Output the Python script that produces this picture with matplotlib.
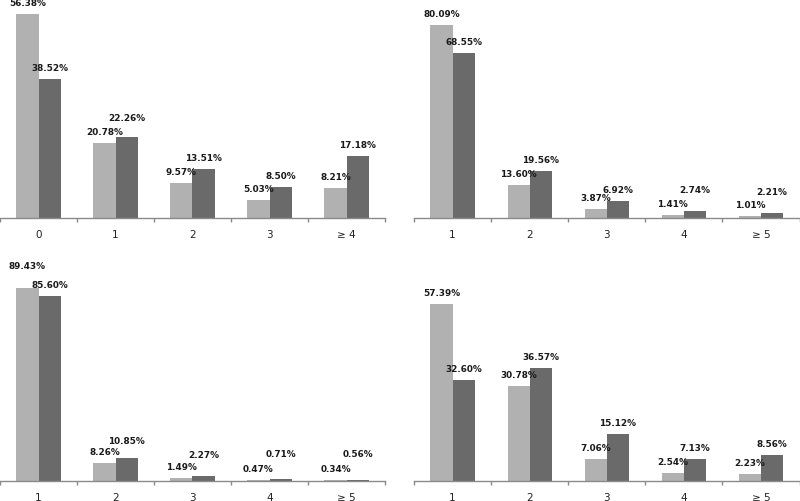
import matplotlib
matplotlib.use("Agg")
import matplotlib.pyplot as plt
import numpy as np

# ---- data ----
cats_a = ["0", "1", "2", "3", "\u2265 4"]
cats_b = ["1", "2", "3", "4", "\u2265 5"]

p1_light = [56.38, 20.78, 9.57, 5.03, 8.21]
p1_dark = [38.52, 22.26, 13.51, 8.50, 17.18]

p2_light = [80.09, 13.60, 3.87, 1.41, 1.01]
p2_dark = [68.55, 19.56, 6.92, 2.74, 2.21]

p3_light = [89.43, 8.26, 1.49, 0.47, 0.34]
p3_dark = [85.60, 10.85, 2.27, 0.71, 0.56]

p4_light = [57.39, 30.78, 7.06, 2.54, 2.23]
p4_dark = [32.60, 36.57, 15.12, 7.13, 8.56]

# ---- layout / style ----
W, H = 800, 502
LIGHT = "#b1b1b1"
DARK = "#6a6a6a"
AXC = "#8a8a8a"

# axes rectangles in pixels: (left, top, right, bottom)
rects = [(0, 2, 385, 219), (414, 2, 799.5, 219),
         (0, 266, 385, 482), (414, 266, 799.5, 482)]
ymax = [60, 90, 100, 70]
panels = [(cats_a, p1_light, p1_dark), (cats_b, p2_light, p2_dark),
          (cats_b, p3_light, p3_dark), (cats_b, p4_light, p4_dark)]
# extra upward nudges of labels (pixels), (panel, series, index)
nudge = {(0, 1, 1): 8, (1, 1, 3): 10, (1, 1, 4): 10,
         (2, 0, 0): 11, (2, 1, 1): 6, (2, 1, 2): 10, (2, 1, 3): 14, (2, 1, 4): 15}

fig = plt.figure(figsize=(W / 100, H / 100), dpi=100)
bw = 0.286
px2pt = 72 / 100

for k, ((l, t, r, b), ym, (cats, lv, dv)) in enumerate(zip(rects, ymax, panels)):
    ax = fig.add_axes([l / W, 1 - b / H, (r - l) / W, (b - t) / H])
    x = np.arange(len(cats))
    for s, (vals, col, off) in enumerate([(lv, LIGHT, -bw / 2), (dv, DARK, bw / 2)]):
        ax.bar(x + off, vals, width=bw, color=col, edgecolor="none", zorder=2)
        for i, v in enumerate(vals):
            lift = 11.5 + nudge.get((k, s, i), 0)
            ax.annotate(f"{v:.2f}%", (x[i] + off, v), xytext=(0, lift * px2pt),
                        textcoords="offset points", ha="center", va="center",
                        fontsize=6.4, fontweight="bold", color="#1a1a1a",
                        annotation_clip=False)
    ax.set_xlim(-0.5, len(cats) - 0.5)
    ax.set_ylim(0, ym)
    for sp in ["top", "left", "right"]:
        ax.spines[sp].set_visible(False)
    ax.spines["bottom"].set_color(AXC)
    ax.spines["bottom"].set_linewidth(1.0)
    ax.set_yticks([])
    ax.set_xticks(x)
    ax.set_xticklabels(cats, fontsize=7.5, color="#222222")
    ax.tick_params(axis="x", which="major", length=0, pad=8)
    ax.set_xticks(np.arange(-0.5, len(cats)), minor=True)
    ax.tick_params(axis="x", which="minor", length=3, color=AXC, width=1.0, direction="out")
    ax.patch.set_alpha(0)

fig.savefig("out.png", dpi=100)
